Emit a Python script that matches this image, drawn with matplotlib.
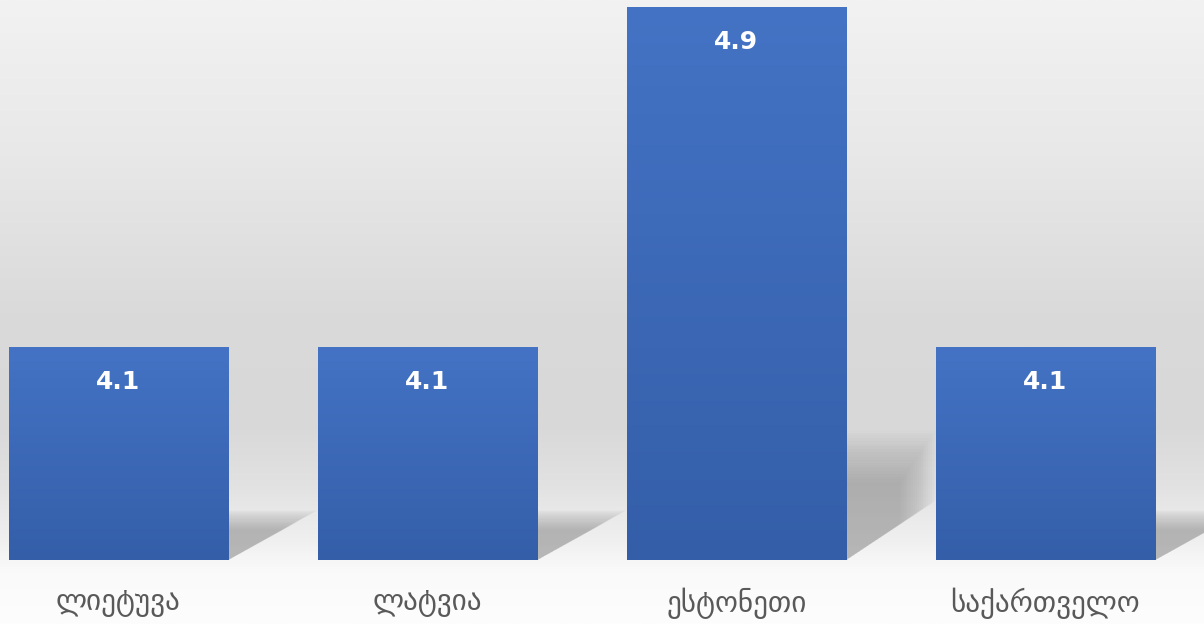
import numpy as np
import matplotlib

matplotlib.use('Agg')

import matplotlib.pyplot as plt
from matplotlib.colors import LinearSegmentedColormap
from matplotlib.patches import Polygon

# data
countries = ['ლიეტუვა', 'ლატვია', 'ესტონეთი', 'საქართველო']
values = [4.1, 4.1, 4.9, 4.1]
value_labels = ['4.1', '4.1', '4.9', '4.1']

y_min, y_max = 3.6, 4.916
bar_w = 0.71

fig = plt.figure(figsize=(12.04, 6.24), dpi=100)

# background gradient over the whole figure
bg = fig.add_axes([0, 0, 1, 1], zorder=-5)
bg_stops = [(0.0, '#f2f2f2'), (0.25, '#e8e8e8'), (0.5, '#dadada'), (0.68, '#d8d8d8'),
            (0.78, '#e2e2e2'), (0.87, '#f0f0f0'), (0.92, '#fafafa'), (1.0, '#fdfdfd')]
bg_cmap = LinearSegmentedColormap.from_list('bg', bg_stops)
bg.imshow(np.linspace(0, 1, 400).reshape(-1, 1), aspect='auto', cmap=bg_cmap,
          extent=[0, 1, 1, 0], interpolation='bicubic')
bg.set_xlim(0, 1)
bg.set_ylim(1, 0)
bg.axis('off')

ax = fig.add_axes([0, 64 / 624, 1, 560 / 624])
ax.patch.set_alpha(0)
x = np.arange(len(countries))
bars = ax.bar(x, [v - y_min for v in values], bottom=y_min, width=bar_w,
              color='none', edgecolor='none', zorder=3)

bar_cmap = LinearSegmentedColormap.from_list('bar', ['#345ea8', '#4473c5'])
grad = np.linspace(0, 1, 200).reshape(-1, 1)
for b, v, lab in zip(bars, values, value_labels):
    x0 = b.get_x()
    x1 = x0 + b.get_width()
    # soft shadow to the right of each bar (layered to look blurred)
    h = 0.235 * (v - y_min)
    dx = 0.29
    k = min(0.14, h)
    for s in np.linspace(1.0, 0.6, 20):
        poly = Polygon([(x1, y_min), (x1, y_min + h * s), (x1 + dx * s, y_min + h * s),
                        (x1 + dx * s, y_min + k * s)], closed=True,
                       facecolor='#8f8f8f', edgecolor='none', alpha=0.04, zorder=2)
        ax.add_patch(poly)
    im = ax.imshow(grad, aspect='auto', cmap=bar_cmap, origin='lower',
                   extent=[x0, x1, y_min, v], zorder=3)
    im.set_clip_path(b)
    ax.text(b.get_x() + b.get_width() / 2, v - 0.082, lab, ha='center', va='center',
            color='white', fontsize=18, fontweight='bold', family='DejaVu Sans', zorder=4)

ax.set_xlim(-0.383, 3.513)
ax.set_ylim(y_min, y_max)
ax.set_xticks(x)
ax.set_xticklabels(countries, fontsize=21, color='#595959', family='DejaVu Sans')
ax.tick_params(axis='x', length=0, pad=20)
ax.set_yticks([])
for sp in ax.spines.values():
    sp.set_visible(False)

plt.savefig('out.png', dpi=100)
